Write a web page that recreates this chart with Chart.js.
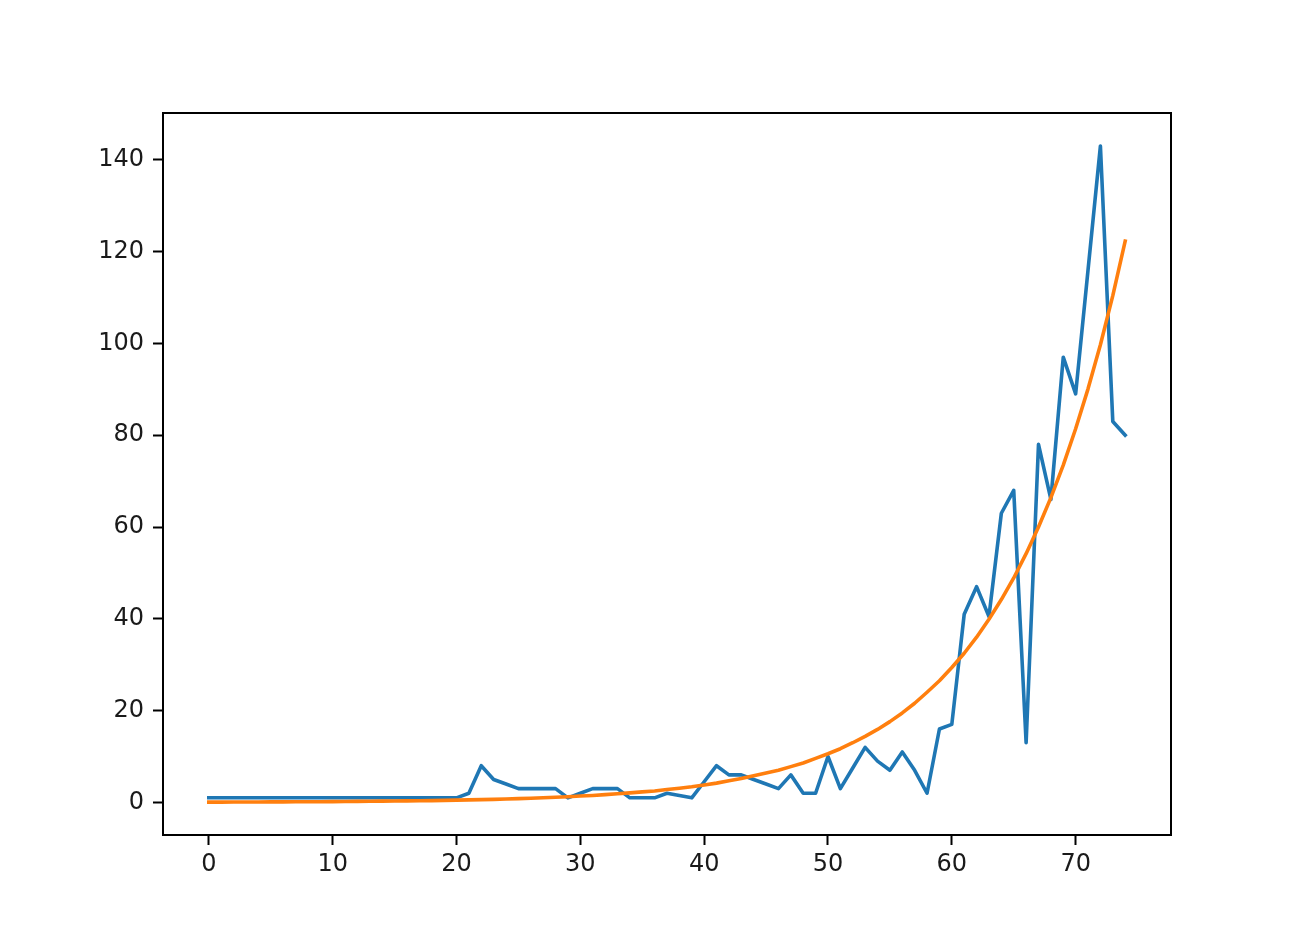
<!DOCTYPE html>
<html>
<head>
<meta charset="utf-8">
<script src="https://cdn.jsdelivr.net/npm/chart.js@4/dist/chart.umd.min.js"></script>
<style>
html,body{margin:0;padding:0;background:#fff;}
canvas{display:block;}
</style>
</head>
<body>
<canvas id="c" width="1300" height="938"></canvas>
<script>
const days = [0,1,2,3,4,5,6,7,8,9,10,11,12,13,14,15,16,17,18,19,20,21,22,23,24,25,26,27,28,29,30,31,32,33,34,35,36,37,38,39,40,41,42,43,44,45,46,47,48,49,50,51,52,53,54,55,56,57,58,59,60,61,62,63,64,65,66,67,68,69,70,71,72,73,74];
const observed = [1,1,1,1,1,1,1,1,1,1,1,1,1,1,1,1,1,1,1,1,1,2,8,5,4,3,3,3,3,1,2,3,3,3,1,1,1,2,1.5,1,4.5,8,6,6,5,4,3,6,2,2,10,3,7.5,12,9,7,11,7,2,16,17,41,47,40.5,63,68,13,78,66,97,89,116,143,83,80];
const fitted = [0.065,0.07,0.08,0.09,0.10,0.11,0.12,0.13,0.15,0.16,0.18,0.20,0.22,0.24,0.27,0.30,0.33,0.37,0.40,0.45,0.50,0.55,0.61,0.67,0.75,0.83,0.92,1.01,1.12,1.24,1.38,1.52,1.69,1.87,2.07,2.3,2.5,2.8,3.1,3.4,3.8,4.2,4.7,5.2,5.8,6.4,7.0,7.8,8.6,9.6,10.6,11.7,13.0,14.4,15.9,17.6,19.5,21.6,24.0,26.5,29.4,32.5,36.0,39.9,44.2,48.9,54.2,60.0,66.4,73.5,81.4,90.1,99.7,110.4,122.3];
const xTicks = [0,10,20,30,40,50,60,70];
const yTicks = [0,20,40,60,80,100,120,140];

const frame = {
  id:'frame',
  afterDraw(chart){
    const a = chart.chartArea, ctx = chart.ctx;
    ctx.save();
    ctx.strokeStyle = '#000';
    ctx.lineWidth = 2;
    ctx.strokeRect(a.left, a.top, a.right - a.left, a.bottom - a.top);
    ctx.restore();
  }
};

new Chart(document.getElementById('c'), {
  type: 'line',
  data: {
    datasets: [
      {data: days.map((d,i)=>({x:d, y:observed[i]})), borderColor:'#1f77b4', borderWidth:3.6, pointRadius:0, tension:0, fill:false, order:2, borderJoinStyle:'round', borderCapStyle:'square'},
      {data: days.map((d,i)=>({x:d, y:fitted[i]})), borderColor:'#ff7f0e', borderWidth:3.6, pointRadius:0, tension:0, fill:false, order:1, borderJoinStyle:'round', borderCapStyle:'square'}
    ]
  },
  options: {
    responsive:false,
    animation:false,
    events:[],
    layout:{padding:{left:0, top:113, right:129, bottom:0}},
    plugins:{legend:{display:false}, tooltip:{enabled:false}},
    scales:{
      x:{
        type:'linear', min:-3.7, max:77.7,
        afterBuildTicks(s){ s.ticks = xTicks.map(v=>({value:v})); },
        afterFit(s){ s.height = 103; },
        grid:{drawOnChartArea:false, drawTicks:true, tickLength:10, tickColor:'#000', tickWidth:2},
        border:{display:true, color:'#000', width:2},
        ticks:{font:{family:'DejaVu Sans', size:24}, color:'#1a1a1a', padding:5, maxRotation:0, autoSkip:false}
      },
      y:{
        type:'linear', min:-7.1, max:150.2,
        afterBuildTicks(s){ s.ticks = yTicks.map(v=>({value:v})); },
        afterFit(s){ s.width = 163; },
        grid:{drawOnChartArea:false, drawTicks:true, tickLength:10, tickColor:'#000', tickWidth:2},
        border:{display:true, color:'#000', width:2},
        ticks:{font:{family:'DejaVu Sans', size:24}, color:'#1a1a1a', padding:9, autoSkip:false}
      }
    }
  },
  plugins:[frame]
});
</script>
</body>
</html>
